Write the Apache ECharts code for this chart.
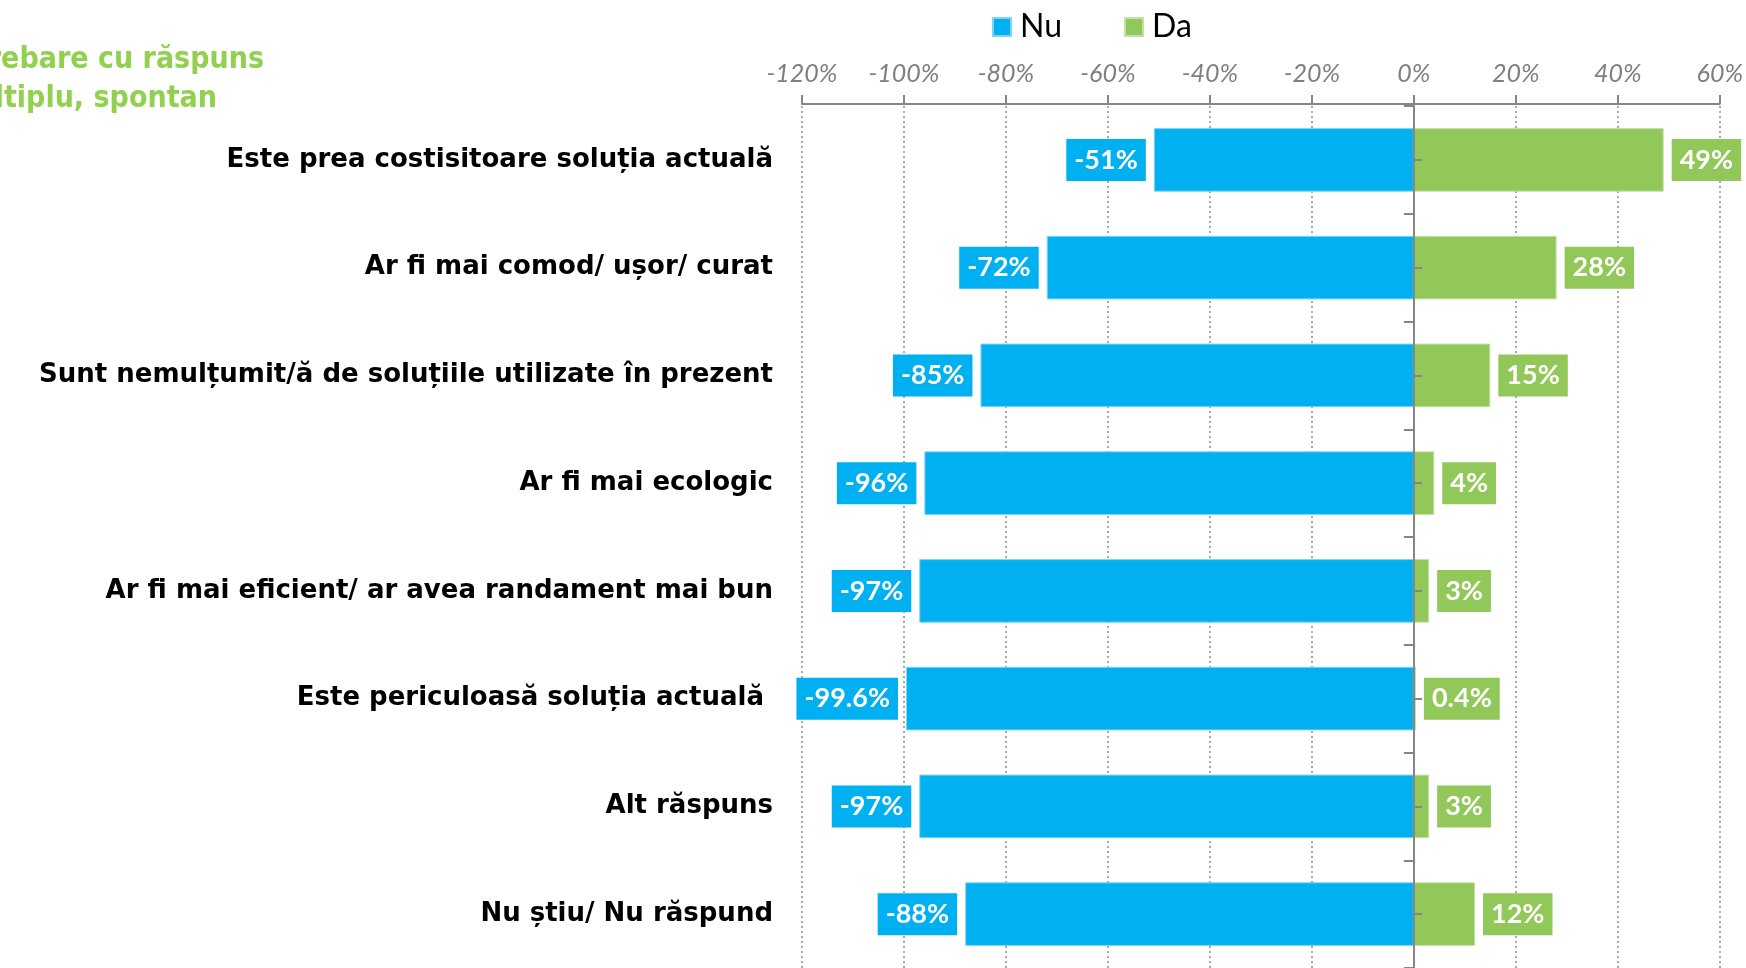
<!DOCTYPE html>
<html>
<head>
<meta charset="utf-8">
<script src="https://cdn.jsdelivr.net/npm/echarts@6/dist/echarts.min.js"></script>
<style>
  html, body { margin: 0; padding: 0; background: #fff; }
  #chart { width: 1746px; height: 968px; }
</style>
</head>
<body>
<div id="chart"></div>
<script>
const categories = [
  'Este prea costisitoare soluția actuală',
  'Ar fi mai comod/ ușor/ curat',
  'Sunt nemulțumit/ă de soluțiile utilizate în prezent',
  'Ar fi mai ecologic',
  'Ar fi mai eficient/ ar avea randament mai bun',
  'Este periculoasă soluția actuală ',
  'Alt răspuns',
  'Nu știu/ Nu răspund'
]
const nuValues = [-51, -72, -85, -96, -97, -99.6, -97, -88]
const daValues = [49, 28, 15, 4, 3, 0.4, 3, 12]
const seriesNames = ['Nu', 'Da']
const axisMin = -120
const axisMax = 60
const axisStep = 20
const noteLines = ['Întrebare cu răspuns', 'multiplu, spontan']

const blue = '#00B0F0'
const green = '#92C85A'
const gray = '#868686'
const font = 'Lato'
const labelFont = 'DejaVu Sans'

const barLabel = (color, pos) => ({
  show: true,
  position: pos,
  distance: 8,
  color: '#fff',
  fontFamily: font,
  fontWeight: 'bold',
  fontSize: 27,
  backgroundColor: color,
  padding: [8, 8, 7, 8],
  formatter: p => p.value + '%'
})

const gridRect = { left: 802, right: 26, top: 106, bottom: -6, containLabel: false }

const option = {
  animation: false,
  legend: {
    data: seriesNames,
    left: 987,
    top: 6,
    icon: 'rect',
    itemWidth: 18,
    itemHeight: 18,
    itemGap: 62,
    textStyle: { fontSize: 32, fontFamily: font, color: '#000', padding: [0, 0, 0, 4] }
  },
  graphic: [
    {
      type: 'text', x: 264, y: 60,
      style: { text: noteLines[0], align: 'right', verticalAlign: 'middle', fill: '#92D050',
        font: 'bold 30px "DejaVu Sans Condensed"' }
    },
    {
      type: 'text', x: 217, y: 99,
      style: { text: noteLines[1], align: 'right', verticalAlign: 'middle', fill: '#92D050',
        font: 'bold 30px "DejaVu Sans Condensed"' }
    }
  ],
  grid: [gridRect, Object.assign({}, gridRect)],
  xAxis: [
    {
      type: 'value',
      gridIndex: 0,
      position: 'top',
      offset: 2,
      min: axisMin,
      max: axisMax,
      interval: axisStep,
      axisLine: { show: true, onZero: false, lineStyle: { color: gray, width: 2 } },
      axisTick: { show: true, length: 9, lineStyle: { color: gray, width: 2 } },
      axisLabel: {
        formatter: '{value}%', margin: 18, color: '#7F7F7F',
        fontFamily: font, fontStyle: 'italic', fontSize: 25
      },
      splitLine: { show: true, lineStyle: { color: '#8C8C8C', type: [2, 3], width: 1.5 } }
    },
    {
      type: 'value', gridIndex: 1, min: axisMin, max: axisMax, interval: axisStep, show: false
    }
  ],
  yAxis: [
    {
      type: 'category',
      gridIndex: 0,
      position: 'left',
      data: categories,
      inverse: true,
      axisLine: { show: false, onZero: false },
      axisTick: { show: false },
      axisLabel: {
        margin: 29, color: '#000', fontFamily: labelFont, fontWeight: 'bold', fontSize: 26,
        padding: [4, 0, 0, 0]
      }
    },
    {
      type: 'category',
      gridIndex: 0,
      position: 'left',
      data: categories,
      inverse: true,
      z: 3,
      axisLine: { show: true, onZero: true, lineStyle: { color: gray, width: 2 } },
      axisTick: { show: true, length: 10, lineStyle: { color: gray, width: 2 } },
      axisLabel: { show: false }
    },
    {
      type: 'category',
      gridIndex: 1,
      position: 'left',
      data: categories,
      inverse: true,
      z: 3,
      axisLine: { show: false, onZero: true },
      axisTick: { show: true, inside: true, alignWithLabel: true, length: 8, lineStyle: { color: gray, width: 2 } },
      axisLabel: { show: false }
    }
  ],
  series: [
    {
      name: seriesNames[0],
      type: 'bar',
      xAxisIndex: 0,
      yAxisIndex: 0,
      data: nuValues,
      barWidth: '59%',
      barGap: '-100%',
      itemStyle: { color: blue, borderColor: '#7FD3F4', borderWidth: 1 },
      label: barLabel(blue, 'left')
    },
    {
      name: seriesNames[1],
      type: 'bar',
      xAxisIndex: 0,
      yAxisIndex: 0,
      data: daValues,
      barWidth: '59%',
      barGap: '-100%',
      itemStyle: { color: green, borderColor: '#C4E0A6', borderWidth: 1 },
      label: barLabel(green, 'right')
    }
  ]
}

const chart = echarts.init(document.getElementById('chart'))
chart.setOption(option)
</script>
</body>
</html>
